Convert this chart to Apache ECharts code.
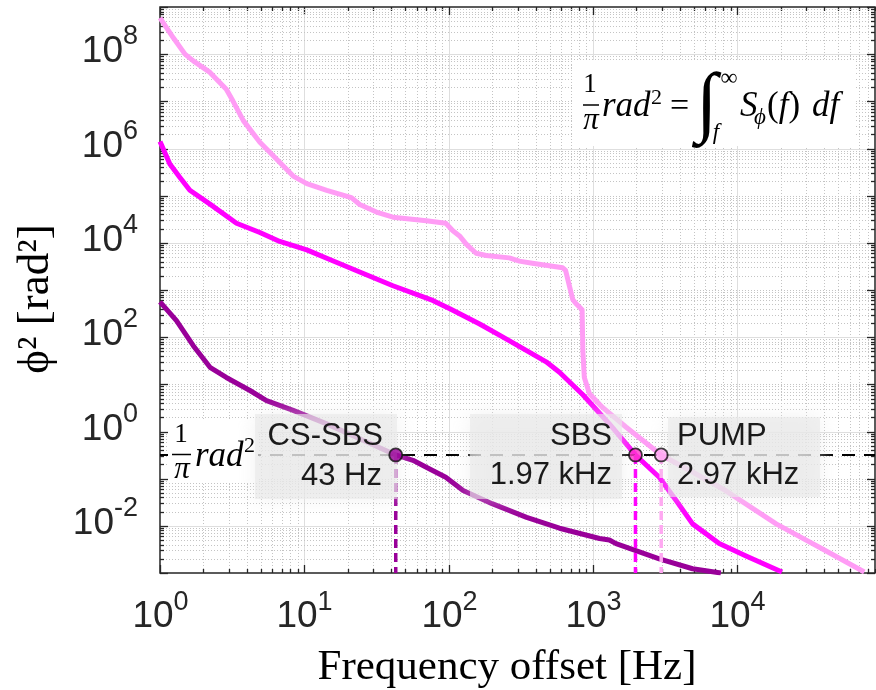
<!DOCTYPE html>
<html><head><meta charset="utf-8">
<script src="https://cdn.jsdelivr.net/npm/echarts@6/dist/echarts.min.js"></script>
<style>html,body{margin:0;padding:0;background:#fff}#c{width:876px;height:690px}</style>
</head><body><div id="c"></div>
<script>
// ---------------- data ----------------
const pumpFreq = [1, 1.24, 1.49, 1.70, 2.22, 2.88, 3.21, 3.78, 4.92, 6.41, 8.37, 10.4, 14.3, 21.2, 24.2, 31.6, 41.1, 70, 95.5, 107, 119, 132, 155, 182, 263, 309, 380, 617, 646, 724, 759, 841, 851, 871, 946, 1170, 1700, 2970, 4900, 8300, 18600, 40700, 75900];
const pumpVal  = [5.9e8, 2.2e8, 1.0e8, 7.2e7, 4.1e7, 1.8e7, 1.0e7, 3.9e6, 1.35e6, 6.0e5, 2.6e5, 1.8e5, 1.3e5, 9.1e4, 6.5e4, 4.5e4, 3.5e4, 2.95e4, 2.6e4, 1.8e4, 1.4e4, 9.5e3, 6.0e3, 5.4e3, 4.8e3, 4.1e3, 3.7e3, 2.95e3, 2.6e3, 630, 525, 380, 52, 14, 6.3, 3.2, 1.23, 0.318, 0.138, 0.056, 0.011, 0.003, 0.00105];

const sbsFreq = [1, 1.17, 1.37, 1.61, 2.22, 3.39, 4.92, 6.76, 10.4, 14.3, 24.2, 41.1, 77.6, 102, 164, 238, 347, 474, 586, 851, 1290, 1970, 2880, 3760, 4900, 7500, 11500, 20400];
const sbsVal  = [1.4e6, 4.7e5, 2.45e5, 1.3e5, 6.6e4, 2.6e4, 1.66e4, 1.07e4, 7.1e3, 4.7e3, 2.4e3, 1.23e3, 600, 400, 190, 100, 52, 30, 18, 6.0, 1.48, 0.318, 0.107, 0.035, 0.011, 0.0042, 0.0023, 0.00105];

const cssbsFreq = [1, 1.30, 1.70, 2.22, 2.88, 4.20, 5.47, 8.37, 14.3, 24.2, 43, 56.6, 70, 95.5, 126, 200, 347, 586, 1110, 1300, 1445, 2880, 4900, 7700];
const cssbsVal  = [560, 224, 66, 23, 14, 7.4, 4.5, 2.8, 1.45, 0.70, 0.318, 0.245, 0.174, 0.107, 0.056, 0.0295, 0.0151, 0.0089, 0.0054, 0.0050, 0.0042, 0.002, 0.00123, 0.001];

const markerFreq  = [43, 1970, 2970];
const markerLevel = 0.3183;          // 1/pi rad^2
const markerName  = ['CS-SBS', 'SBS', 'PUMP'];
const markerText  = ['43 Hz', '1.97 kHz', '2.97 kHz'];

const xTickLabels = [1, 10, 100, 1000, 10000];
const yTickLabels = [1e-2, 1, 1e2, 1e4, 1e6, 1e8];
const X_MIN = 1, X_MAX = 9e4, Y_MIN = 1e-3, Y_MAX = 1e9;

// ---------------- styles ----------------
const C_PUMP = '#ff9cf5', C_SBS = '#ff00ff', C_CS = '#990099';
const MARK_FILL = ['#990099', '#ff33cc', '#ffa8f2'];
const VLINE_COL = ['#990099', '#ff00ff', '#ffa8f2'];
const MAJOR_GRID = {stroke: '#dedede', lineWidth: 1};
const MINOR_GRID = {stroke: '#c4c4c4', lineWidth: 1, lineDash: [1, 2]};
const TICK = {stroke: '#262626', lineWidth: 1.3};
const LBL_FONT = 'Liberation Sans, Arial, sans-serif';
const tickRich = {
  b: {fontSize: 37, fontFamily: LBL_FONT, fill: '#262626', lineHeight: 56},
  e: {fontSize: 27, fontFamily: LBL_FONT, fill: '#262626', lineHeight: 26, verticalAlign: 'top'}
};

function rnd(v) { return Number(v.toPrecision(10)); }
function isLabelled(list, v) { return list.some(t => Math.abs(Math.log10(t) - Math.log10(v)) < 1e-9); }

// tick lists (kind: 0 minor, 1 major unlabeled, 2 labelled)
const xTicks = [];
for (let e = 0; e <= 4; e++) {
  const d = Math.pow(10, e);
  xTicks.push([rnd(d), Y_MIN, isLabelled(xTickLabels, d) ? 2 : 1]);
  for (let k = 2; k <= 9; k++) { const v = rnd(k * d); if (v <= X_MAX) xTicks.push([v, Y_MIN, 0]); }
}
const yTicks = [];
for (let e = -3; e <= 9; e++) {
  const d = rnd(Math.pow(10, e));
  yTicks.push([X_MIN, d, isLabelled(yTickLabels, d) ? 2 : 1]);
  if (e < 9) for (let k = 2; k <= 9; k++) yTicks.push([X_MIN, rnd(k * d), 0]);
}

function zip(f, v) { return f.map((x, i) => [x, v[i]]); }

function renderXTick(params, api) {
  const cs = params.coordSys;
  const v = api.value(0), kind = api.value(2);
  const px = Math.round(api.coord([v, Y_MIN])[0]) + 0.5;
  const top = cs.y, bot = cs.y + cs.height;
  const ch = [];
  if (v > X_MIN * 1.001 && v < X_MAX * 0.999) {
    ch.push({type: 'line', shape: {x1: px, y1: top, x2: px, y2: bot}, style: kind === 2 ? MAJOR_GRID : MINOR_GRID});
  }
  const len = kind > 0 ? 8 : 4;
  ch.push({type: 'line', shape: {x1: px, y1: bot, x2: px, y2: bot - len}, style: TICK});
  ch.push({type: 'line', shape: {x1: px, y1: top, x2: px, y2: top + len}, style: TICK});
  if (kind === 2) {
    const ex = Math.round(Math.log10(v));
    ch.push({type: 'text', style: {text: '{b|10}{e|' + ex + '}', rich: tickRich, x: px, y: bot + 44, align: 'center', verticalAlign: 'middle'}});
  }
  return {type: 'group', children: ch};
}
function renderYTick(params, api) {
  const cs = params.coordSys;
  const v = api.value(1), kind = api.value(2);
  const py = Math.round(api.coord([X_MIN, v])[1]) + 0.5;
  const left = cs.x, right = cs.x + cs.width;
  const ch = [];
  if (v > Y_MIN * 1.001 && v < Y_MAX * 0.999) {
    ch.push({type: 'line', shape: {x1: left, y1: py, x2: right, y2: py}, style: kind === 2 ? MAJOR_GRID : MINOR_GRID});
  }
  const len = kind > 0 ? 8 : 4;
  ch.push({type: 'line', shape: {x1: left, y1: py, x2: left + len, y2: py}, style: TICK});
  ch.push({type: 'line', shape: {x1: right, y1: py, x2: right - len, y2: py}, style: TICK});
  if (kind === 2) {
    const ex = Math.round(Math.log10(v));
    ch.push({type: 'text', style: {text: '{b|10}{e|' + ex + '}', rich: tickRich, x: left - 22, y: py - 3, align: 'right', verticalAlign: 'middle'}});
  }
  return {type: 'group', children: ch};
}

const LW = 5;
const series = [
  {type: 'custom', coordinateSystem: 'cartesian2d', data: xTicks, renderItem: renderXTick, z: 1, silent: true, clip: false, encode: {x: 0, y: 1}},
  {type: 'custom', coordinateSystem: 'cartesian2d', data: yTicks, renderItem: renderYTick, z: 1, silent: true, clip: false, encode: {x: 0, y: 1}},
  {type: 'line', name: 'PUMP', data: zip(pumpFreq, pumpVal), showSymbol: false, lineStyle: {color: C_PUMP, width: LW, join: 'round'}, itemStyle: {color: C_PUMP}, z: 2},
  {type: 'line', name: 'SBS', data: zip(sbsFreq, sbsVal), showSymbol: false, lineStyle: {color: C_SBS, width: LW, join: 'round'}, itemStyle: {color: C_SBS}, z: 2},
  {type: 'line', name: 'CS-SBS', data: zip(cssbsFreq, cssbsVal), showSymbol: false, lineStyle: {color: C_CS, width: LW, join: 'round'}, itemStyle: {color: C_CS}, z: 2},
  {type: 'line', data: [[X_MIN, markerLevel], [X_MAX, markerLevel]], showSymbol: false, lineStyle: {color: '#000', width: 2, type: [13, 9]}, z: 3}
];
markerFreq.forEach((f, i) => {
  series.push({type: 'line', data: [[f, markerLevel], [f, Y_MIN]], showSymbol: false, lineStyle: {color: VLINE_COL[i], width: 3.5, type: [9, 5]}, z: 3});
});
series.push({type: 'scatter', data: markerFreq.map((f, i) => ({value: [f, markerLevel], itemStyle: {color: MARK_FILL[i]}})), symbolSize: 13, itemStyle: {borderColor: '#111', borderWidth: 1.8}, z: 100});

// ---------------- annotations ----------------
const SERIF = 'Liberation Serif, Times New Roman, serif';
function t(x, y, text, size, opts) {
  opts = opts || {};
  return {type: 'text', x: x, y: y, z: opts.z || 61, rotation: opts.rotation || 0,
    style: {text: text, font: (opts.italic ? 'italic ' : '') + size + 'px ' + (opts.family || SERIF), fill: opts.fill || '#000', align: opts.align || 'left', verticalAlign: 'middle', rich: opts.rich}};
}
const gray = (x, y, w, h) => ({type: 'rect', z: 50, shape: {x: x, y: y, width: w, height: h}, style: {fill: 'rgba(232,232,232,0.62)', shadowBlur: 18, shadowColor: 'rgba(232,232,232,0.9)'}});
const ANN = 'Liberation Sans, Arial, sans-serif';

const graphic = [
  // axis titles
  t(507, 668, 'Frequency offset [Hz]', 43, {align: 'center'}),
  t(36, 299, 'ϕ² [rad²]', 45, {align: 'center', rotation: Math.PI / 2}),
  // formula box
  {type: 'rect', z: 40, shape: {x: 572, y: 60, width: 284, height: 86}, style: {fill: '#fff'}},
  t(590, 85, '1', 27, {align: 'center'}),
  {type: 'line', z: 61, shape: {x1: 583, y1: 105, x2: 599, y2: 105}, style: {stroke: '#000', lineWidth: 1.5}},
  t(591, 121, 'π', 31, {align: 'center', italic: true}),
  t(602, 107, 'rad', 35, {italic: true}),
  t(651, 98, '2', 22),
  t(670, 107, '=', 34),
  t(707, 106, '∫', 78, {align: 'center', italic: true}),
  t(729, 79, '∞', 24, {align: 'center'}),
  t(716, 133, 'f', 23, {align: 'center', italic: true}),
  t(740, 107, 'S', 35, {italic: true}),
  t(754, 118, 'ϕ', 23, {italic: true}),
  t(767, 107, '{u|(}{i|f}{u|)}', 35, {rich: {u: {fontSize: 35, fontFamily: SERIF}, i: {fontSize: 35, fontFamily: SERIF, fontStyle: 'italic'}}}),
  t(812, 107, 'df', 35, {italic: true}),
  // 1/pi rad^2 label
  {type: 'rect', z: 40, shape: {x: 168, y: 420, width: 90, height: 62}, style: {fill: '#fff'}},
  t(181, 435, '1', 27, {align: 'center'}),
  {type: 'line', z: 61, shape: {x1: 172, y1: 454.5, x2: 191, y2: 454.5}, style: {stroke: '#000', lineWidth: 1.5}},
  t(182, 470, 'π', 31, {align: 'center', italic: true}),
  t(195, 457, 'rad', 35, {italic: true}),
  t(244, 446, '2', 22),
  // gray label boxes
  gray(255, 414, 142, 85),
  gray(470, 414, 152, 85),
  gray(668, 417, 152, 80),
  // annotation texts
  t(383, 436, markerName[0], 31, {align: 'right', family: ANN, fill: '#1a1a1a'}),
  t(382, 476, markerText[0], 31, {align: 'right', family: ANN, fill: '#1a1a1a'}),
  t(612, 436, markerName[1], 31, {align: 'right', family: ANN, fill: '#1a1a1a'}),
  t(612, 475, markerText[1], 31, {align: 'right', family: ANN, fill: '#1a1a1a'}),
  t(677, 436, markerName[2], 31, {align: 'left', family: ANN, fill: '#1a1a1a'}),
  t(677, 475, markerText[2], 31, {align: 'left', family: ANN, fill: '#1a1a1a'})
];

const chart = echarts.init(document.getElementById('c'), null, {renderer: 'canvas'});
chart.setOption({
  animation: false,
  backgroundColor: '#fff',
  grid: {left: 160, top: 7, width: 715, height: 566, show: true, borderColor: '#262626', borderWidth: 1.5, backgroundColor: 'transparent'},
  xAxis: {type: 'log', logBase: 10, min: X_MIN, max: X_MAX, axisLine: {show: false}, axisTick: {show: false}, axisLabel: {show: false}, splitLine: {show: false}},
  yAxis: {type: 'log', logBase: 10, min: Y_MIN, max: Y_MAX, axisLine: {show: false}, axisTick: {show: false}, axisLabel: {show: false}, splitLine: {show: false}},
  series: series,
  graphic: graphic
});
</script></body></html>
